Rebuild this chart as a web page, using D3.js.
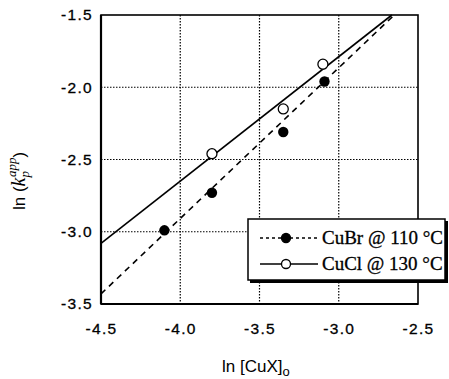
<!DOCTYPE html>
<html>
<head>
<meta charset="utf-8">
<script src="https://cdn.jsdelivr.net/npm/d3@7"></script>
<style>
  body { margin: 0; background: #fff; }
  svg { display: block; }
  .tick text { font-family: "Liberation Sans", Arial, sans-serif; font-size: 15.5px; letter-spacing: 1.3px; fill: #000; stroke: #000; stroke-width: 0.3px; }
  .legend text { font-family: "Liberation Serif", "Times New Roman", serif; font-size: 19px; fill: #000; stroke: #000; stroke-width: 0.3px; }
</style>
</head>
<body>
<div id="chart"></div>
<script>
// data
let brX = [-4.10, -3.80, -3.35, -3.09],
    brY = [-2.99, -2.73, -2.31, -1.96],
    clX = [-3.80, -3.35, -3.10],
    clY = [-2.46, -2.15, -1.84],
    brFit = [[-4.5, -3.43], [-2.65, -1.5]],
    clFit = [[-4.5, -3.08], [-2.665, -1.5]],
    xTicks = [-4.5, -4.0, -3.5, -3.0, -2.5],
    yTicks = [-1.5, -2.0, -2.5, -3.0, -3.5],
    xGrid = [-4.0, -3.5, -3.0],
    yGrid = [-2.0, -2.5, -3.0],
    legendItems = ["CuBr @ 110 °C", "CuCl @ 130 °C"];

let width = 449, height = 379,
    margin = { top: 15, right: 31, bottom: 75, left: 101 },
    w = width - margin.left - margin.right,
    h = height - margin.top - margin.bottom;

let svg = d3.select("#chart").append("svg").attr("width", width).attr("height", height),
    g = svg.append("g").attr("transform", `translate(${margin.left},${margin.top})`);

let x = d3.scaleLinear().domain([-4.5, -2.5]).range([0, w]),
    y = d3.scaleLinear().domain([-3.5, -1.5]).range([h, 0]);

let line = d3.line().x(d => x(d[0])).y(d => y(d[1]));

// grid
g.selectAll(".vgrid").data(xGrid).enter().append("line")
    .attr("x1", d => x(d)).attr("x2", d => x(d)).attr("y1", 0).attr("y2", h)
    .attr("stroke", "#000").attr("stroke-width", 1.2).attr("stroke-dasharray", "1.5,1.5");
g.selectAll(".hgrid").data(yGrid).enter().append("line")
    .attr("y1", d => y(d)).attr("y2", d => y(d)).attr("x1", 0).attr("x2", w)
    .attr("stroke", "#000").attr("stroke-width", 1.2).attr("stroke-dasharray", "1.5,1.5");

// axes
g.append("g").attr("transform", `translate(0,${h})`)
    .call(d3.axisBottom(x).tickValues(xTicks).tickFormat(d3.format(".1f")).tickSize(0).tickPadding(19))
    .call(a => a.select(".domain").remove());
g.append("g")
    .call(d3.axisLeft(y).tickValues(yTicks).tickFormat(d3.format(".1f")).tickSize(0).tickPadding(8))
    .call(a => a.select(".domain").remove());
g.selectAll(".tick text").text(d => d3.format(".1f")(d).replace("−", "-"));

// frame
g.append("rect").attr("width", w).attr("height", h)
    .attr("fill", "none").attr("stroke", "#000").attr("stroke-width", 1.6);
g.append("line").attr("x1", 0).attr("x2", 0).attr("y1", 0).attr("y2", h).attr("stroke", "#000").attr("stroke-width", 2.2);
g.append("line").attr("x1", 0).attr("x2", w).attr("y1", h).attr("y2", h).attr("stroke", "#000").attr("stroke-width", 2.2);

// fit lines
g.append("path").datum(brFit).attr("d", line).attr("fill", "none")
    .attr("stroke", "#000").attr("stroke-width", 1.6).attr("stroke-dasharray", "6,5");
g.append("path").datum(clFit).attr("d", line).attr("fill", "none")
    .attr("stroke", "#000").attr("stroke-width", 1.6);

// points
g.selectAll(".br").data(brX).enter().append("circle")
    .attr("cx", d => x(d)).attr("cy", (d, i) => y(brY[i])).attr("r", 5.2).attr("fill", "#000");
g.selectAll(".cl").data(clX).enter().append("circle")
    .attr("cx", d => x(d)).attr("cy", (d, i) => y(clY[i])).attr("r", 5)
    .attr("fill", "#fff").attr("stroke", "#000").attr("stroke-width", 1.3);

// legend
let lg = svg.append("g").attr("class", "legend").attr("transform", "translate(248,219)");
lg.append("rect").attr("x", 2).attr("y", 2).attr("width", 198).attr("height", 62).attr("fill", "#000");
lg.append("rect").attr("width", 197).attr("height", 61).attr("fill", "#fff").attr("stroke", "#000").attr("stroke-width", 1.5);
legendItems.forEach((t, i) => {
    let yy = 19 + i * 26;
    lg.append("line").attr("x1", 12).attr("x2", 70).attr("y1", yy).attr("y2", yy)
        .attr("stroke", "#000").attr("stroke-width", 1.3).attr("stroke-dasharray", i ? null : "3,3");
    lg.append("circle").attr("cx", 38).attr("cy", yy).attr("r", 4.5)
        .attr("fill", i ? "#fff" : "#000").attr("stroke", "#000").attr("stroke-width", 1.3);
    lg.append("text").attr("x", 74).attr("y", yy + 6).text(t);
});

// axis titles
svg.append("text").attr("x", 222).attr("y", 372)
    .attr("font-family", "Liberation Sans, Arial, sans-serif").attr("font-size", 17)
    .call(t => {
        t.append("tspan").text("ln [CuX]");
        t.append("tspan").attr("font-size", 13).attr("dy", 4).text("o");
    });
svg.append("text").attr("transform", "translate(25,210) rotate(-90)")
    .attr("font-family", "Liberation Sans, Arial, sans-serif").attr("font-size", 17)
    .call(t => {
        t.append("tspan").text("ln (");
        t.append("tspan").attr("font-family", "Liberation Serif, serif").attr("font-style", "italic").attr("font-size", 20).text("k");
        t.append("tspan").attr("font-family", "Liberation Serif, serif").attr("font-style", "italic").attr("font-size", 13).attr("dy", 4).text("p");
        t.append("tspan").attr("font-family", "Liberation Serif, serif").attr("font-style", "italic").attr("font-size", 13).attr("dy", -13).attr("dx", -6).text("app");
        t.append("tspan").attr("dy", 9).text(")");
    });
</script>
</body>
</html>
